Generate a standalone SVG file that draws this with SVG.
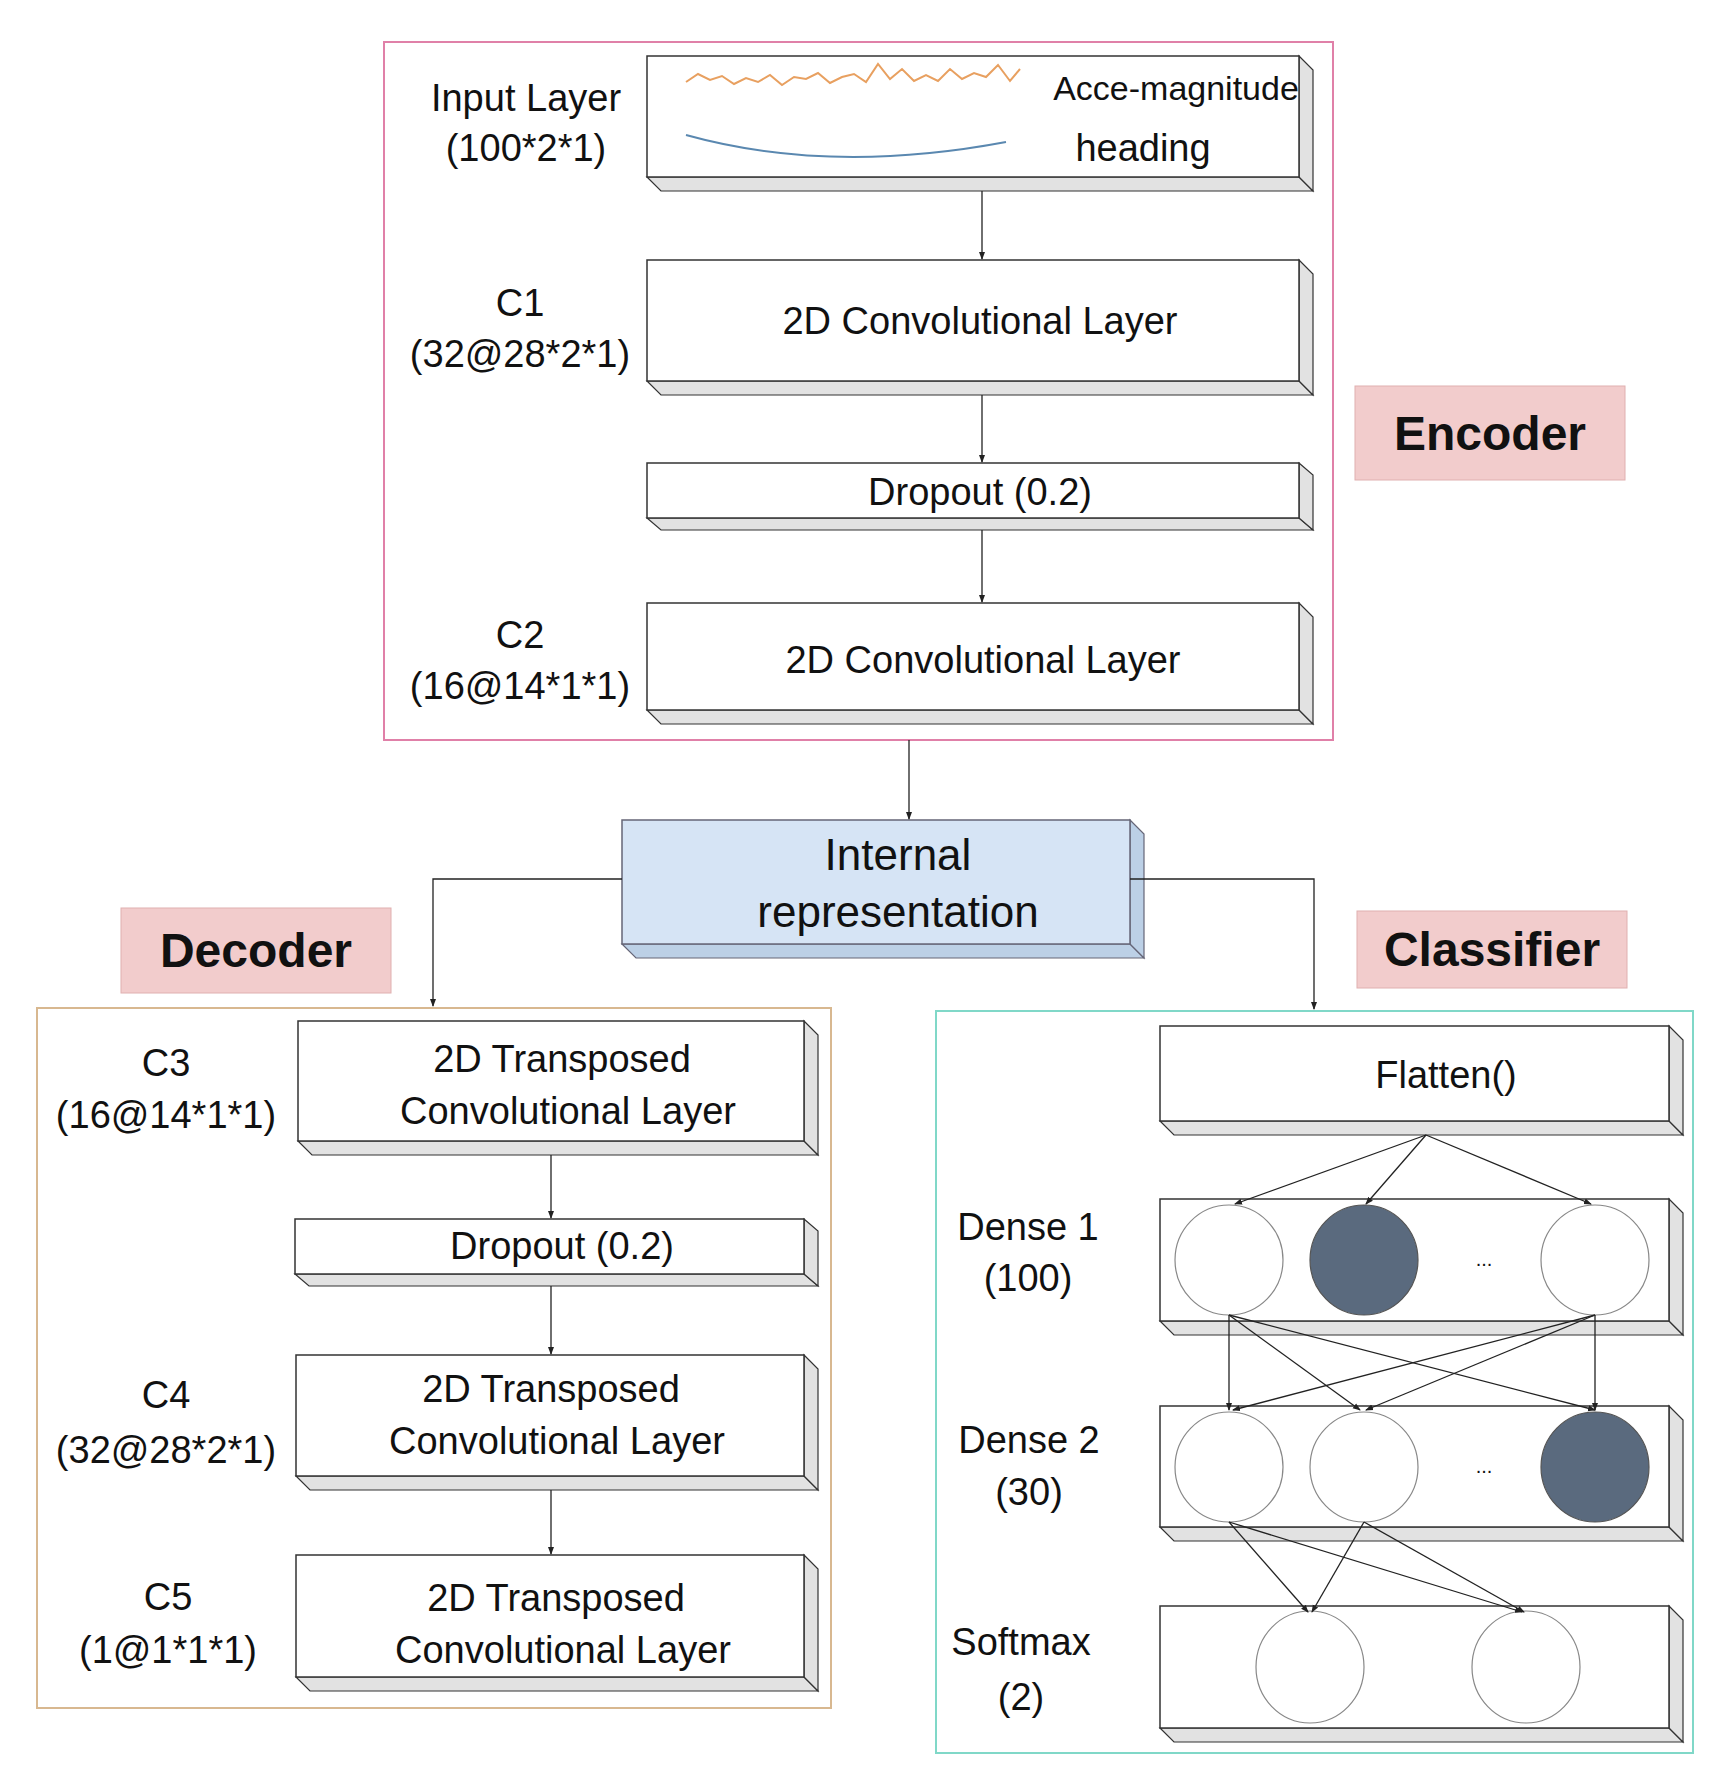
<svg xmlns="http://www.w3.org/2000/svg" width="1715" height="1784" viewBox="0 0 1715 1784">
<defs>
<marker id="ah" markerWidth="8" markerHeight="8" refX="7" refY="4" orient="auto" markerUnits="userSpaceOnUse"><path d="M0,1 L8,4 L0,7 Z" fill="#222"/></marker>
<style>
.t{font-family:"Liberation Sans",Arial,sans-serif;fill:#111;text-anchor:middle}
.b{font-family:"Liberation Sans",Arial,sans-serif;font-weight:bold;fill:#111;text-anchor:middle;font-size:48px}
.f{fill:#fff;stroke:#333;stroke-width:1.5}
.d{fill:#e2e2e2;stroke:#333;stroke-width:1.2}
.c{fill:#fff;stroke:#888;stroke-width:1.2}
.k{fill:#5a6a7e;stroke:#555;stroke-width:1.2}
.e{stroke:#222;stroke-width:1.3;fill:none;marker-end:url(#ah)}
</style>
</defs>
<rect width="1715" height="1784" fill="#fff"/>
<g id="containers">
<rect x="384" y="42" width="949" height="698" fill="none" stroke="#e080a8" stroke-width="2"/>
<rect x="37" y="1008" width="794" height="700" fill="none" stroke="#d8b890" stroke-width="2"/>
<rect x="936" y="1011" width="757" height="742" fill="none" stroke="#80d8c8" stroke-width="2"/>
</g>
<g id="labels">
<rect x="1355" y="386" width="270" height="94" fill="#f2cccc" stroke="#e0b0b0"/><text class="b" x="1490" y="450">Encoder</text>
<rect x="121" y="908" width="270" height="85" fill="#f2cccc" stroke="#e0b0b0"/><text class="b" x="256" y="967">Decoder</text>
<rect x="1357" y="911" width="270" height="77" fill="#f2cccc" stroke="#e0b0b0"/><text class="b" x="1492" y="966">Classifier</text>
</g>
<g id="input">
<polygon class="d" points="647,177 661,191 1313,191 1299,177"/><polygon class="d" points="1299,56 1313,70 1313,191 1299,177"/>
<rect class="f" x="647" y="56" width="652" height="121"/>
<path d="M686,82 l12,-8 12,6 12,-4 12,8 12,-6 12,4 12,-7 12,10 12,-8 12,2 12,-6 12,10 12,-6 12,-3 12,8 12,-18 12,15 12,-10 12,12 12,-6 12,6 12,-12 12,10 12,-6 12,4 12,-12 12,16 10,-12" fill="none" stroke="#e8a060" stroke-width="2"/>
<path d="M686,135 Q830,175 1006,142" fill="none" stroke="#5a88b0" stroke-width="2"/>
<text class="t" x="1176" y="100" font-size="34">Acce-magnitude</text>
<text class="t" x="1143" y="161" font-size="38">heading</text>
<text class="t" x="526" y="111" font-size="38">Input Layer</text>
<text class="t" x="526" y="161" font-size="38">(100*2*1)</text>
</g>
<g id="c1">
<polygon class="d" points="647,381 661,395 1313,395 1299,381"/><polygon class="d" points="1299,260 1313,274 1313,395 1299,381"/>
<rect class="f" x="647" y="260" width="652" height="121"/>
<text class="t" x="980" y="334" font-size="38">2D Convolutional Layer</text>
<text class="t" x="520" y="316" font-size="38">C1</text><text class="t" x="520" y="367" font-size="38">(32@28*2*1)</text>
</g>
<g id="drop1">
<polygon class="d" points="647,518 661,530 1313,530 1299,518"/><polygon class="d" points="1299,463 1313,475 1313,530 1299,518"/>
<rect class="f" x="647" y="463" width="652" height="55"/>
<text class="t" x="980" y="505" font-size="38">Dropout (0.2)</text>
</g>
<g id="c2">
<polygon class="d" points="647,710 661,724 1313,724 1299,710"/><polygon class="d" points="1299,603 1313,617 1313,724 1299,710"/>
<rect class="f" x="647" y="603" width="652" height="107"/>
<text class="t" x="983" y="673" font-size="38">2D Convolutional Layer</text>
<text class="t" x="520" y="648" font-size="38">C2</text><text class="t" x="520" y="699" font-size="38">(16@14*1*1)</text>
</g>
<g id="internal">
<polygon points="622,944 636,958 1144,958 1130,944" fill="#bcd0e6" stroke="#667" stroke-width="1.2"/><polygon points="1130,820 1144,834 1144,958 1130,944" fill="#bcd0e6" stroke="#667" stroke-width="1.2"/>
<rect x="622" y="820" width="508" height="124" fill="#d6e4f5" stroke="#667" stroke-width="1.5"/>
<text class="t" x="898" y="870" font-size="44">Internal</text>
<text class="t" x="898" y="927" font-size="44">representation</text>
</g>
<g id="c3">
<polygon class="d" points="298,1141 312,1155 818,1155 804,1141"/><polygon class="d" points="804,1021 818,1035 818,1155 804,1141"/>
<rect class="f" x="298" y="1021" width="506" height="120"/>
<text class="t" x="562" y="1072" font-size="38">2D Transposed</text><text class="t" x="568" y="1124" font-size="38">Convolutional Layer</text>
<text class="t" x="166" y="1076" font-size="38">C3</text><text class="t" x="166" y="1128" font-size="38">(16@14*1*1)</text>
</g>
<g id="drop2">
<polygon class="d" points="295,1274 309,1286 818,1286 804,1274"/><polygon class="d" points="804,1219 818,1231 818,1286 804,1274"/>
<rect class="f" x="295" y="1219" width="509" height="55"/>
<text class="t" x="562" y="1259" font-size="38">Dropout (0.2)</text>
</g>
<g id="c4">
<polygon class="d" points="296,1476 310,1490 818,1490 804,1476"/><polygon class="d" points="804,1355 818,1369 818,1490 804,1476"/>
<rect class="f" x="296" y="1355" width="508" height="121"/>
<text class="t" x="551" y="1402" font-size="38">2D Transposed</text><text class="t" x="557" y="1454" font-size="38">Convolutional Layer</text>
<text class="t" x="166" y="1408" font-size="38">C4</text><text class="t" x="166" y="1463" font-size="38">(32@28*2*1)</text>
</g>
<g id="c5">
<polygon class="d" points="296,1677 310,1691 818,1691 804,1677"/><polygon class="d" points="804,1555 818,1569 818,1691 804,1677"/>
<rect class="f" x="296" y="1555" width="508" height="122"/>
<text class="t" x="556" y="1611" font-size="38">2D Transposed</text><text class="t" x="563" y="1663" font-size="38">Convolutional Layer</text>
<text class="t" x="168" y="1610" font-size="38">C5</text><text class="t" x="168" y="1663" font-size="38">(1@1*1*1)</text>
</g>
<g id="flatten">
<polygon class="d" points="1160,1121 1174,1135 1683,1135 1669,1121"/><polygon class="d" points="1669,1026 1683,1040 1683,1135 1669,1121"/>
<rect class="f" x="1160" y="1026" width="509" height="95"/>
<text class="t" x="1446" y="1088" font-size="38">Flatten()</text>
</g>
<g id="dense1">
<polygon class="d" points="1160,1321 1174,1335 1683,1335 1669,1321"/><polygon class="d" points="1669,1199 1683,1213 1683,1335 1669,1321"/>
<rect class="f" x="1160" y="1199" width="509" height="122"/>
<ellipse class="c" cx="1229" cy="1260" rx="54" ry="55"/><ellipse class="k" cx="1364" cy="1260" rx="54" ry="55"/><ellipse class="c" cx="1595" cy="1260" rx="54" ry="55"/>
<text class="t" x="1484" y="1266" font-size="20">...</text>
<text class="t" x="1028" y="1240" font-size="38">Dense 1</text><text class="t" x="1028" y="1291" font-size="38">(100)</text>
</g>
<g id="dense2">
<polygon class="d" points="1160,1527 1174,1541 1683,1541 1669,1527"/><polygon class="d" points="1669,1406 1683,1420 1683,1541 1669,1527"/>
<rect class="f" x="1160" y="1406" width="509" height="121"/>
<ellipse class="c" cx="1229" cy="1467" rx="54" ry="55"/><ellipse class="c" cx="1364" cy="1467" rx="54" ry="55"/><ellipse class="k" cx="1595" cy="1467" rx="54" ry="55"/>
<text class="t" x="1484" y="1473" font-size="20">...</text>
<text class="t" x="1029" y="1453" font-size="38">Dense 2</text><text class="t" x="1029" y="1505" font-size="38">(30)</text>
</g>
<g id="softmax">
<polygon class="d" points="1160,1728 1174,1742 1683,1742 1669,1728"/><polygon class="d" points="1669,1606 1683,1620 1683,1742 1669,1728"/>
<rect class="f" x="1160" y="1606" width="509" height="122"/>
<ellipse class="c" cx="1310" cy="1667" rx="54" ry="56"/><ellipse class="c" cx="1526" cy="1667" rx="54" ry="56"/>
<text class="t" x="1021" y="1655" font-size="38">Softmax</text><text class="t" x="1021" y="1710" font-size="38">(2)</text>
</g>
<g id="connectors">
<path class="e" d="M982,191 V259"/>
<path class="e" d="M982,395 V462"/>
<path class="e" d="M982,530 V602"/>
<path class="e" d="M909,740 V819"/>
<path class="e" d="M622,879 H433 V1006"/>
<path class="e" d="M1130,879 H1314 V1009"/>
<path class="e" d="M551,1155 V1218"/>
<path class="e" d="M551,1286 V1354"/>
<path class="e" d="M551,1490 V1554"/>
<path class="e" d="M1426,1135 L1235,1204"/>
<path class="e" d="M1426,1135 L1366,1204"/>
<path class="e" d="M1426,1135 L1591,1204"/>
<path class="e" d="M1229,1315 L1229,1410"/>
<path class="e" d="M1229,1315 L1360,1410"/>
<path class="e" d="M1229,1315 L1595,1410"/>
<path class="e" d="M1595,1315 L1233,1410"/>
<path class="e" d="M1595,1315 L1366,1410"/>
<path class="e" d="M1595,1315 L1595,1410"/>
<path class="e" d="M1229,1522 L1308,1612"/>
<path class="e" d="M1229,1522 L1522,1612"/>
<path class="e" d="M1364,1522 L1312,1612"/>
<path class="e" d="M1364,1522 L1524,1612"/>
</g>
</svg>
